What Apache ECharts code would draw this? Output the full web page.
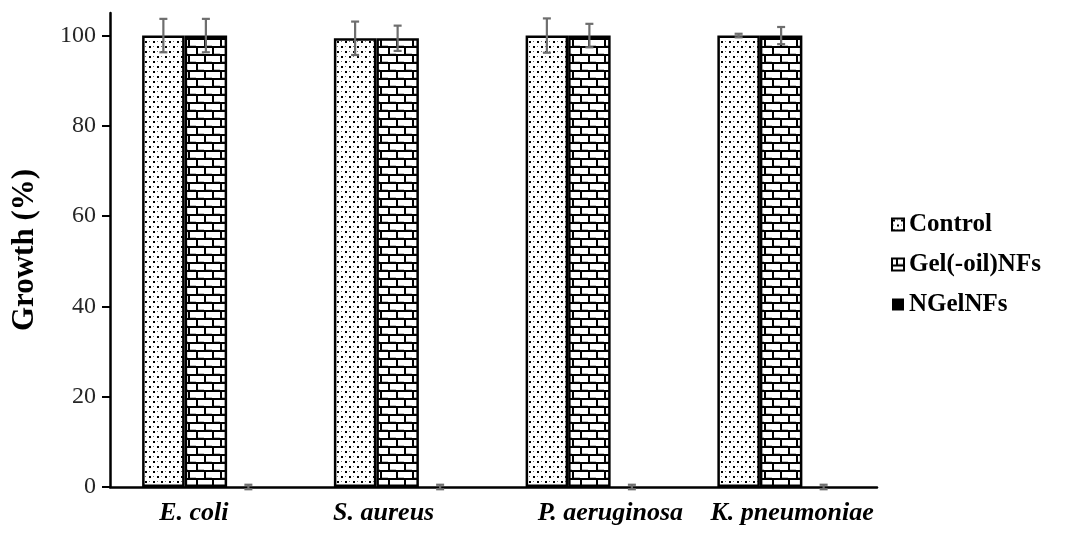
<!DOCTYPE html>
<html>
<head>
<meta charset="utf-8">
<script src="https://cdn.jsdelivr.net/npm/echarts@6/dist/echarts.min.js"></script>
<style>
  html, body { margin: 0; padding: 0; background: #fff; }
  #chart { width: 1079px; height: 534px; }
</style>
</head>
<body>
<div id="chart"></div>
<script>
// Bacterial growth after exposure to the nanofibre samples
const categories = ['E. coli', 'S. aureus', 'P. aeruginosa', 'K. pneumoniae'];
const seriesNames = ['Control', 'Gel(-oil)NFs', 'NGelNFs'];
const controlMean = [100, 99.4, 100, 100];
const controlErr  = [3.7, 3.7, 3.8, 0.4];
const gelMean     = [100, 99.4, 100, 100];
const gelErr      = [3.7, 2.8, 2.6, 1.9];
const ngelMean    = [0, 0, 0, 0];
const ngelErr     = [0.5, 0.5, 0.5, 0.5];
const yTicks      = [0, 20, 40, 60, 80, 100];

// horizontal nudge for each category caption (px)
const labelShift = [-12, -14, 21, 11];

function makeDots() {
  const c = document.createElement('canvas');
  c.width = 8; c.height = 10;
  const g = c.getContext('2d');
  g.fillStyle = '#fff'; g.fillRect(0, 0, 8, 10);
  g.fillStyle = '#000';
  g.fillRect(1, 1, 2, 2);
  g.fillRect(5, 6, 2, 2);
  g.fillStyle = '#777';
  g.fillRect(5, 1, 1, 1);
  g.fillRect(1, 6, 1, 1);
  return c;
}
function makeBricks() {
  const c = document.createElement('canvas');
  c.width = 16; c.height = 16;
  const g = c.getContext('2d');
  g.fillStyle = '#fff'; g.fillRect(0, 0, 16, 16);
  g.fillStyle = '#000';
  g.fillRect(0, 6, 16, 2);
  g.fillRect(0, 14, 16, 2);
  g.fillRect(4, 0, 2, 6);
  g.fillRect(12, 8, 2, 6);
  g.fillStyle = '#bbb';
  g.fillRect(6, 5, 6, 1);
  g.fillRect(14, 13, 2, 1);
  g.fillRect(0, 13, 4, 1);
  return c;
}

const dotFill = { image: makeDots(), repeat: 'repeat' };
const brickFill = { image: makeBricks(), repeat: 'repeat' };

const means = [controlMean, gelMean, ngelMean];
const errs = [controlErr, gelErr, ngelErr];
const fills = [dotFill, brickFill, '#000'];
const GAP = 0.335;

const chart = echarts.init(document.getElementById('chart'), null, { renderer: 'canvas' });

const barSeries = seriesNames.map((name, i) => ({
  name: name,
  type: 'bar',
  data: means[i],
  barGap: 0,
  barCategoryGap: (GAP * 100) + '%',
  itemStyle: { color: fills[i], borderColor: '#000', borderWidth: i === 2 ? 0 : 2.5 },
  emphasis: { disabled: true },
  z: 2
}));

const errData = [];
for (let s = 0; s < 3; s++) {
  for (let k = 0; k < categories.length; k++) {
    errData.push([k, means[s][k], errs[s][k], s]);
  }
}

const errorSeries = {
  type: 'custom',
  name: 'err',
  data: errData,
  z: 5,
  silent: true,
  renderItem: function (params, api) {
    const k = api.value(0), m = api.value(1), e = api.value(2), s = api.value(3);
    const band = api.size([1, 0])[0];
    const group = band * (1 - GAP);
    const bw = group / 3;
    const dx = -group / 2 + bw * (s + 0.5);
    const hi = api.coord([k, m + e]);
    const lo = api.coord([k, m - e]);
    const x = hi[0] + dx;
    const cap = 4;
    const style = { stroke: '#6e6e6e', lineWidth: 2.2 };
    return {
      type: 'group',
      children: [
        { type: 'line', shape: { x1: x, y1: hi[1], x2: x, y2: lo[1] }, style: style },
        { type: 'line', shape: { x1: x - cap, y1: hi[1], x2: x + cap, y2: hi[1] }, style: style },
        { type: 'line', shape: { x1: x - cap, y1: lo[1], x2: x + cap, y2: lo[1] }, style: style }
      ]
    };
  }
};

const rich = {};
labelShift.forEach((s, i) => {
  rich['c' + i] = {
    fontFamily: 'Liberation Serif',
    fontWeight: 'bold',
    fontStyle: 'italic',
    fontSize: 26,
    color: '#000',
    padding: s < 0 ? [0, -2 * s, 0, 0] : [0, 0, 0, 2 * s]
  };
});

chart.setOption({
  animation: false,
  backgroundColor: '#fff',
  grid: { left: 110, right: 202, top: 13, bottom: 47, containLabel: false, outerBoundsMode: 'none' },
  legend: {
    data: seriesNames,
    orient: 'vertical',
    left: 886,
    top: 207,
    itemWidth: 12,
    itemHeight: 12,
    itemGap: 15,
    icon: 'rect',
    selectedMode: false,
    textStyle: { fontFamily: 'Liberation Serif', fontWeight: 'bold', fontSize: 25, color: '#000' }
  },
  xAxis: {
    type: 'category',
    data: categories,
    axisLine: { lineStyle: { color: '#000', width: 2.5 } },
    axisTick: { show: false },
    axisLabel: {
      margin: 13,
      formatter: function (v, i) { return '{c' + i + '|' + v + '}'; },
      rich: rich
    }
  },
  yAxis: {
    type: 'value',
    min: 0,
    max: 105,
    interval: 20,
    name: 'Growth (%)',
    nameLocation: 'middle',
    nameGap: 70,
    nameRotate: 90,
    nameTextStyle: { fontFamily: 'Liberation Serif', fontWeight: 'bold', fontSize: 31, color: '#000' },
    splitLine: { show: false },
    axisLine: { show: true, lineStyle: { color: '#000', width: 2.5 } },
    axisTick: { show: true, length: 8, lineStyle: { color: '#000', width: 2 }, customValues: yTicks },
    axisLabel: {
      customValues: yTicks,
      margin: 14,
      fontFamily: 'Liberation Serif',
      fontSize: 24,
      color: '#262626'
    }
  },
  series: barSeries.concat([errorSeries])
});
</script>
</body>
</html>
